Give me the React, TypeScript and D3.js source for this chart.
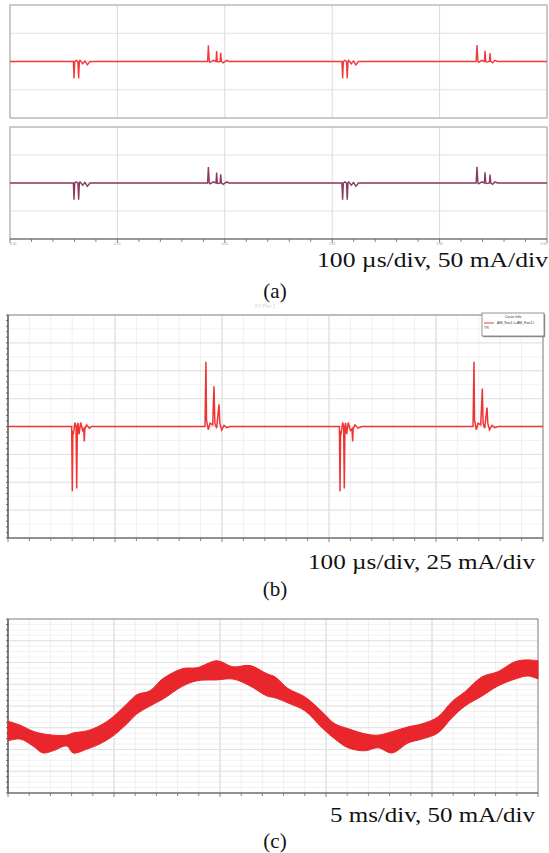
import React, { useEffect, useRef } from "react";
import * as d3 from "d3";

const W = 549;
const H = 853;

// (a) measured fan current, t in µs, i in mA (same event shape on both channels)
const traceA: [number, number][] = [
  [0, 0], [59, 0], [59.6, -30], [60.3, 0], [61.5, 2], [63.2, 0], [63.9, -30], [64.6, 0], [65.2, 2],
  [67.7, -4], [69.8, 1], [72, -6], [74.5, 0],
  [184, 0], [184.7, 28.6], [185.6, 0], [186.2, -1.5], [189.3, 2], [191.8, 0], [192.4, 18.5], [193, 0],
  [194, -1], [195.6, 0], [196.2, 15.5], [196.8, 0], [198.5, -2.4], [201.7, 2], [204, 0],
  [309, 0], [309.7, -30], [310.4, 0], [311.6, 2], [313.3, 0], [314, -30], [314.7, 0], [315.3, 2],
  [317.8, -4], [319.9, 1], [322, -6], [324.5, 0],
  [434, 0], [434.8, 29], [435.7, 0], [436.3, -1.5], [439.4, 2], [441.7, 0], [442.3, 19], [443, 0],
  [444, -1], [446.4, 0], [447, 15], [447.6, 0], [449.3, -2.4], [451.6, 2], [454, 0], [500, 0],
];

// (b) simulated AM_Fan1.I + AM_Fan2.I, t in µs, i in mA
const traceB: [number, number][] = [
  [0, 0], [59.5, 0], [60.1, -58], [60.6, -4], [61, -7.4], [62.6, 3.6], [63.6, 0], [64.2, -55.6], [64.8, 0],
  [65.4, 3.3], [66.4, -7], [67.9, 3.6], [69.8, -3.6], [70.8, -2], [71.3, -13.4], [71.8, -2], [73.5, 1.5],
  [76, -1.5], [78.2, 0],
  [184.1, 0], [185, 58], [185.5, 6], [187.2, -3], [188.8, 3], [191.3, 1.5], [192.5, 36], [193.3, 3],
  [195, -1.5], [197.2, 20], [198, 3], [199.7, -3], [201.9, 1], [204.4, -1], [207.5, 0],
  [309.7, 0], [310.3, -58], [310.8, -4], [311.2, -7.4], [312.8, 3.6], [313.7, 0], [314.3, -55.6], [314.9, 0],
  [315.5, 3.3], [316.5, -7], [318, 3.6], [320, -3.6], [321.5, -2], [322.1, -13.4], [322.6, -2], [324.3, 1.5],
  [327, -1.5], [330.6, 0],
  [434.6, 0], [435.5, 58], [436, 6], [437.7, -3], [439.3, 3], [441.8, 1.5], [443.3, 34], [444, 3],
  [445.5, -1.5], [447.7, 17], [448.4, 3], [450, -3], [452.4, 1], [455, -1], [458.2, 0], [500, 0],
];

// (c) line-frequency current envelope, t in ms, upper / lower edge in mA
const bandT = [0, 0.57, 1.18, 1.65, 2.12, 2.78, 3.07, 3.73, 4.34, 4.95, 5.61, 6.08, 6.7, 7.31, 8.25, 8.92, 9.86,
  10.61, 11.42, 12.22, 12.59, 13.21, 14, 14.81, 15.42, 16.04, 16.84, 17.45, 18.11, 18.87, 19.53, 20.28, 20.94,
  21.56, 22.36, 23.11, 23.92, 24.53, 25];
const bandHi = [-35, -44, -58, -64, -67, -67, -62, -57, -45, -25, 5, 26, 35, 63, 86, 88, 104, 90, 93, 74, 67,
  40, 21, -13, -41, -52, -64, -67, -59, -48, -41, -25, 10, 33, 67, 79, 102, 106, 104];
const bandLo = [-80, -76, -92, -108, -103, -92, -108, -99, -87, -69, -41, -18, 0, 16, 46, 58, 60, 62, 46, 23, 19,
  7, -11, -50, -76, -96, -103, -96, -108, -85, -76, -62, -27, 0, 23, 46, 62, 69, 62];

const timeLabelsA = ["0.00", "0.10", "0.20", "0.30", "0.40", "0.50"];
const captions = ["100 µs/div, 50 mA/div", "100 µs/div, 25 mA/div", "5 ms/div, 50 mA/div"];
const panelNames = ["(a)", "(b)", "(c)"];
const legendLines = ["Curve Info", "AM_Fan1.I+AM_Fan2.I", "TR"];

const serif = "Liberation Serif, Times New Roman, Times, serif";

type Frame = {
  x: d3.ScaleLinear<number, number>;
  y: d3.ScaleLinear<number, number>;
  xDiv: number; // major divisions on x
  yDiv: number;
  xMinor?: number; // minor lines per major division
  yMinor?: number;
  yTicks?: number; // small ticks on the left axis per major division
  bottomTicks?: boolean;
  dark?: boolean; // darker axis lines (simulator style)
};

function divs(s: d3.ScaleLinear<number, number>, n: number) {
  const [a, b] = s.domain();
  return d3.range(n + 1).map(i => a + (b - a) * i / n);
}

function drawFrame(g: d3.Selection<SVGGElement, unknown, null, undefined>, f: Frame) {
  const { x, y } = f;
  const [x0, x1] = x.range();
  const [y0, y1] = y.range(); // y0 bottom, y1 top

  if (f.xMinor) {
    g.append("g").selectAll("line")
      .data(divs(x, f.xDiv * f.xMinor))
      .join("line")
      .attr("x1", d => x(d)).attr("x2", d => x(d))
      .attr("y1", y1).attr("y2", y0)
      .attr("stroke", "#ebebeb").attr("stroke-width", 0.8);
  }
  if (f.yMinor) {
    g.append("g").selectAll("line")
      .data(divs(y, f.yDiv * f.yMinor))
      .join("line")
      .attr("y1", d => y(d)).attr("y2", d => y(d))
      .attr("x1", x0).attr("x2", x1)
      .attr("stroke", "#eeeeee").attr("stroke-width", 0.8);
  }
  g.append("g").selectAll("line")
    .data(divs(x, f.xDiv))
    .join("line")
    .attr("x1", d => x(d)).attr("x2", d => x(d))
    .attr("y1", y1).attr("y2", y0)
    .attr("stroke", "#dadada").attr("stroke-width", 1);
  g.append("g").selectAll("line")
    .data(divs(y, f.yDiv))
    .join("line")
    .attr("y1", d => y(d)).attr("y2", d => y(d))
    .attr("x1", x0).attr("x2", x1)
    .attr("stroke", "#e2e2e2").attr("stroke-width", 1);

  g.append("rect")
    .attr("x", x0).attr("y", y1)
    .attr("width", x1 - x0).attr("height", y0 - y1)
    .attr("fill", "none")
    .attr("stroke", f.dark ? "#8c8c8c" : "#a6a6a6")
    .attr("stroke-width", 1);

  if (f.yTicks) {
    g.append("g").selectAll("line")
      .data(divs(y, f.yDiv * f.yTicks))
      .join("line")
      .attr("y1", d => y(d)).attr("y2", d => y(d))
      .attr("x1", x0 - 2).attr("x2", x0)
      .attr("stroke", "#555").attr("stroke-width", 0.8);
    g.append("line")
      .attr("x1", x0).attr("x2", x0).attr("y1", y1).attr("y2", y0)
      .attr("stroke", "#444").attr("stroke-width", 1);
  }
  if (f.bottomTicks) {
    g.append("g").selectAll("line")
      .data(divs(x, f.xDiv * 5))
      .join("line")
      .attr("x1", d => x(d)).attr("x2", d => x(d))
      .attr("y1", y0).attr("y2", (_, i) => y0 + (i % 5 === 0 ? 4 : 3))
      .attr("stroke", "#666").attr("stroke-width", 0.8);
    g.append("line")
      .attr("x1", x0).attr("x2", x1).attr("y1", y0).attr("y2", y0)
      .attr("stroke", "#666").attr("stroke-width", 1);
  }
}

export default function App() {
  const ref = useRef<SVGSVGElement>(null);

  useEffect(() => {
    const svg = d3.select(ref.current);
    svg.selectAll("*").remove();
    svg.append("rect").attr("width", W).attr("height", H).attr("fill", "#fff");

    // ---------- (a) two scope channels ----------
    const xA = d3.scaleLinear([0, 500], [10, 547]);
    const yA1 = d3.scaleLinear([-100, 100], [118, 5]);
    const yA2 = d3.scaleLinear([-100, 100], [239, 127]);
    const lineA1 = d3.line<[number, number]>().x(d => xA(d[0])).y(d => yA1(d[1]));
    const lineA2 = d3.line<[number, number]>().x(d => xA(d[0])).y(d => yA2(d[1]));

    const gA1 = svg.append("g");
    drawFrame(gA1, { x: xA, y: yA1, xDiv: 5, yDiv: 4 });
    gA1.append("path").datum(traceA).attr("d", lineA1)
      .attr("fill", "none").attr("stroke", "#f23a3a").attr("stroke-width", 1.4);

    const gA2 = svg.append("g");
    drawFrame(gA2, { x: xA, y: yA2, xDiv: 5, yDiv: 4, bottomTicks: true });
    gA2.append("path").datum(traceA).attr("d", lineA2)
      .attr("fill", "none").attr("stroke", "#883a62").attr("stroke-width", 1.4);
    gA2.append("g").selectAll("text")
      .data(timeLabelsA)
      .join("text")
      .attr("x", (_, i) => xA(i * 100)).attr("y", 244.5)
      .attr("text-anchor", (_, i) => (i === timeLabelsA.length - 1 ? "end" : i === 0 ? "start" : "middle"))
      .attr("font-family", "Arial, sans-serif").attr("font-size", 3.2)
      .attr("fill", "#9a9a9a")
      .text(d => d);

    // ---------- (b) simulation ----------
    const xB = d3.scaleLinear([0, 500], [8, 543]);
    const yB = d3.scaleLinear([-100, 100], [538, 315]);
    const gB = svg.append("g");
    drawFrame(gB, { x: xB, y: yB, xDiv: 5, yDiv: 8, xMinor: 5, yMinor: 2, yTicks: 5, bottomTicks: true, dark: true });
    gB.append("text")
      .attr("x", 265).attr("y", 308).attr("text-anchor", "middle")
      .attr("font-family", "Arial, sans-serif").attr("font-size", 5).attr("fill", "#d4d4d4")
      .text("XY Plot 1");
    gB.append("path").datum(traceB)
      .attr("d", d3.line<[number, number]>().x(d => xB(d[0])).y(d => yB(d[1])))
      .attr("fill", "none").attr("stroke", "#f03434").attr("stroke-width", 1.5);

    // legend box
    const lg = gB.append("g").attr("transform", "translate(482,313)");
    lg.append("rect").attr("x", 1.2).attr("y", 1.2).attr("width", 62).attr("height", 23).attr("fill", "#9a9a9a");
    lg.append("rect").attr("width", 62).attr("height", 23).attr("fill", "#fff")
      .attr("stroke", "#666").attr("stroke-width", 0.7);
    lg.append("text").attr("x", 31).attr("y", 5).attr("text-anchor", "middle")
      .attr("font-family", "Arial, sans-serif").attr("font-size", 3.6).attr("fill", "#333")
      .text(legendLines[0]);
    lg.append("line").attr("x1", 2).attr("x2", 12).attr("y1", 10).attr("y2", 10)
      .attr("stroke", "#f03434").attr("stroke-width", 1);
    lg.append("text").attr("x", 15).attr("y", 11.3)
      .attr("font-family", "Arial, sans-serif").attr("font-size", 3.6).attr("fill", "#333")
      .text(legendLines[1]);
    lg.append("text").attr("x", 2).attr("y", 16)
      .attr("font-family", "Arial, sans-serif").attr("font-size", 3.6).attr("fill", "#333")
      .text(legendLines[2]);

    // ---------- (c) envelope ----------
    const xC = d3.scaleLinear([0, 25], [8, 538]);
    const yC = d3.scaleLinear([-200, 200], [793, 619]);
    const gC = svg.append("g");
    drawFrame(gC, { x: xC, y: yC, xDiv: 5, yDiv: 8, xMinor: 5, yMinor: 4, yTicks: 4, bottomTicks: true, dark: true });
    const area = d3.area<number>()
      .x(i => xC(bandT[i]))
      .y0(i => yC(bandLo[i]))
      .y1(i => yC(bandHi[i]))
      .curve(d3.curveCatmullRom);
    gC.append("path").datum(d3.range(bandT.length)).attr("d", area)
      .attr("fill", "#e8262b").attr("stroke", "#e8262b").attr("stroke-width", 1);

    // ---------- captions ----------
    const capPos = [
      { x: 317, y: 267, len: 231, py: 298 },
      { x: 308, y: 569, len: 227, py: 596 },
      { x: 330, y: 822, len: 205, py: 848 },
    ];
    svg.append("g").selectAll("text")
      .data(captions)
      .join("text")
      .attr("x", (_, i) => capPos[i].x).attr("y", (_, i) => capPos[i].y)
      .attr("textLength", (_, i) => capPos[i].len)
      .attr("lengthAdjust", "spacingAndGlyphs")
      .attr("font-family", serif)
      .attr("font-size", 22).attr("fill", "#111")
      .text(d => d);
    svg.append("g").selectAll("text")
      .data(panelNames)
      .join("text")
      .attr("x", 275).attr("y", (_, i) => capPos[i].py)
      .attr("text-anchor", "middle")
      .attr("font-family", serif)
      .attr("font-size", 21).attr("fill", "#111")
      .text(d => d);
  }, []);

  return (
    <svg
      ref={ref}
      width={W}
      height={H}
      viewBox={`0 0 ${W} ${H}`}
      style={{ position: "absolute", left: 0, top: 0, display: "block" }}
    />
  );
}
